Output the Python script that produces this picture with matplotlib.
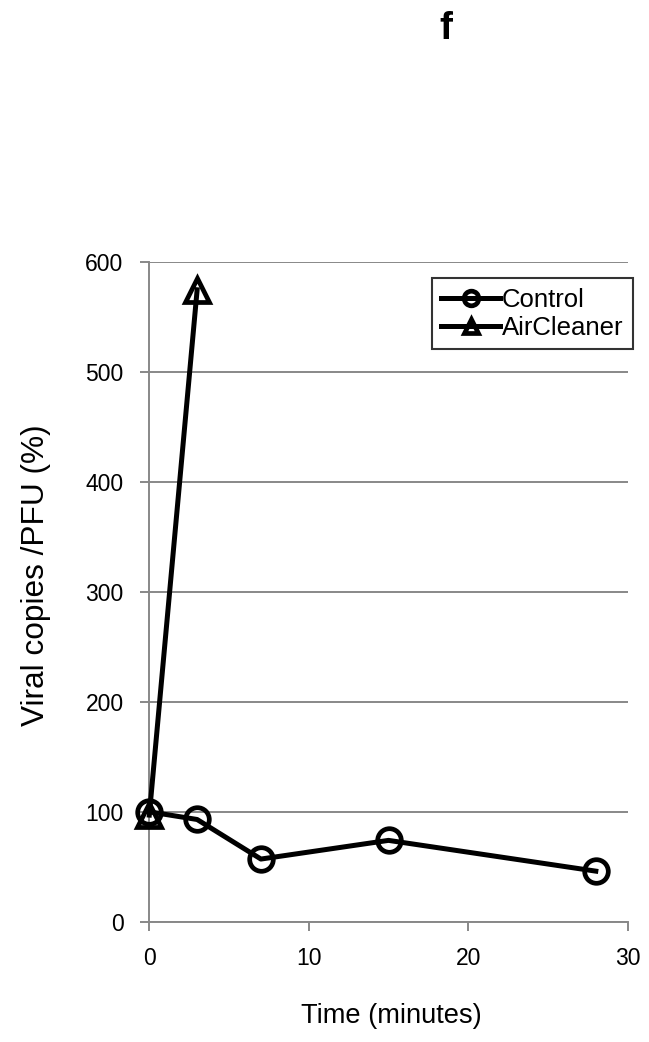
import matplotlib
matplotlib.use("Agg")
import matplotlib.pyplot as plt

plt.rcParams['font.family'] = ['Liberation Sans', 'DejaVu Sans']

control_x = [0, 3, 7, 15, 28]
control_y = [100, 93, 57, 74, 46]
air_x = [0, 3]
air_y = [97, 575]
y_ticks = [0, 100, 200, 300, 400, 500, 600]
x_ticks = [0, 10, 20, 30]

W, H = 649, 1042
fig = plt.figure(figsize=(W / 100, H / 100), dpi=100)
ax = fig.add_axes([149.3 / W, 1 - 921.7 / H, (627.7 - 149.3) / W, (921.7 - 262.3) / H])

ax.plot(control_x, control_y, color='black', lw=3.6, marker='o', ms=17,
        mfc='none', mec='black', mew=3.4, label='Control', zorder=3, clip_on=False)
ax.plot(air_x, air_y, color='black', lw=3.6, marker='^', ms=17,
        mfc='none', mec='black', mew=3.4, label='AirCleaner', zorder=3, clip_on=False)

ax.set_xlim(0, 30)
ax.set_ylim(0, 600)
ax.set_xticks(x_ticks)
ax.set_yticks(y_ticks)
grey = '#888888'
ax.yaxis.grid(True, color=grey, lw=1.4)
ax.set_axisbelow(True)
for s in ['top', 'right']:
    ax.spines[s].set_visible(False)
for s in ['left', 'bottom']:
    ax.spines[s].set_color(grey)
    ax.spines[s].set_linewidth(1.4)
ax.tick_params(axis='both', direction='out', length=6.5, width=1.4, color=grey,
               labelsize=16.5, pad=12)

fig.text(391 / W, 1 - 1023.3 / H, 'Time (minutes)', fontsize=19.6,
         ha='center', va='baseline')
fig.text(36 / W, 1 - 575 / H, 'Viral copies /PFU (%)', fontsize=22.8,
         rotation=90, ha='center', va='center')

leg = ax.legend(loc='upper right', bbox_to_anchor=(633 / W, 1 - 278 / H),
                bbox_transform=fig.transFigure, borderaxespad=0, fontsize=18.5,
                frameon=True, fancybox=False, edgecolor='black', handlelength=2.3,
                handletextpad=0.05, borderpad=0.38, labelspacing=0.15, markerscale=0.62)
leg.get_frame().set_linewidth(1.5)

fig.text(446 / W, 1 - 39.3 / H, 'f', fontsize=28, fontweight='bold',
         ha='center', va='baseline')

fig.savefig('out.png', dpi=100)
